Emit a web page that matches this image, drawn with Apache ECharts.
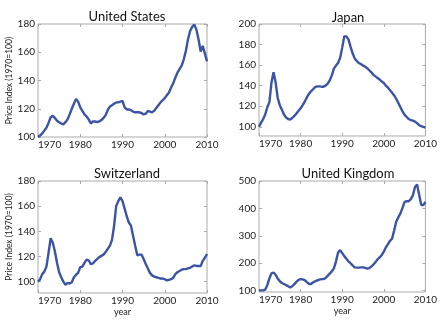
<!DOCTYPE html>
<html><head><meta charset="utf-8">
<script src="https://cdn.jsdelivr.net/npm/echarts@6/dist/echarts.min.js"></script>
<style>html,body{margin:0;padding:0;background:#fff}#c{width:440px;height:325px}</style>
</head><body><div id="c"></div>
<script>
const years = [1970,1970.5,1971,1971.5,1972,1972.5,1973,1973.5,1974,1974.5,1975,1975.5,1976,1976.5,1977,1977.5,1978,1978.5,1979,1979.5,
1980,1980.5,1981,1981.5,1982,1982.5,1983,1983.5,1984,1984.5,1985,1985.5,1986,1986.5,1987,1987.5,1988,1988.5,1989,1989.5,
1990,1990.5,1991,1991.5,1992,1992.5,1993,1993.5,1994,1994.5,1995,1995.5,1996,1996.5,1997,1997.5,1998,1998.5,1999,1999.5,
2000,2000.5,2001,2001.5,2002,2002.5,2003,2003.5,2004,2004.5,2005,2005.5,2006,2006.5,2007,2007.5,2008,2008.5,2009,2009.5,2010];

const usValues = [100,101,102.5,104.5,106.5,110,114,115,113.5,111.5,110.5,109.5,109,110.5,112.5,116,120,123.5,127,125,
121,118.5,116,114.5,112.5,109.5,111,111,110.5,111,112,113.5,115.5,119,121.5,122.5,123.5,124.5,124.5,125,
125.5,121,119.5,119.5,119,118,117.5,117.5,117.5,117,116,116.5,118.5,118,117.5,118.5,120.5,122.5,124.5,126,
127.5,129.5,131.5,135,138,142,145.5,148,150.5,155,161,169,175,178,179.5,176,169,160.5,164.5,159,153.5];

const japanValues = [100,104,107.5,112,119,124,143,153,143,128,121,116.5,112,109,107.5,107,108.5,110.5,113,115.5,
118,121,124.5,128.5,132,134.5,136.5,138.5,139.3,139.3,139,139,140,142,145,150,156.5,159.5,162,167,
177,188,188,185,178,171.5,166.5,164,162,161,159.5,158.5,157,155,153,150.5,149,147.5,146,144,
142.5,140,138,135.5,133,130.5,127,123,119,115,111.5,109.5,107.5,106.5,106,105,103.5,101.5,100.5,99.8,99.3];

const swissValues = [100,102,106,108,112,123,134.5,131,124,115,107.5,103.5,100,97.5,99,98.5,99.5,103.5,105.5,107,
111.5,112,115,117.5,117,114,114.5,116.5,118,119.5,120.5,121.5,123.5,126,128.5,133,144,160,164,167,
164,158,152,147,144.5,136.5,128.5,121,121.5,121.5,118,114,110.5,107,105,104,103.5,103,102.5,102.5,
102,101,101.5,102,103,106,107.5,108.5,109.5,110,110,110.5,111,112,113,112.5,112.5,112.5,116.5,119,122];

const ukValues = [101,101,101,104,120,145,163,166,158,144,134,128,124,120,116,112,116,124,132,139,
142,141,138,131,125,124,130,134,137,140,142,142,146,154,162,170,181,206,238,248,
237,226,216,207,200,192,185,184,184,185,185,183,180,182,188,195,204,214,221,230,
242,258,270,282,290,320,352,368,382,402,424,426,426,434,448,478,487,450,412,412,424];

const titles = ['United States','Japan','Switzerland','United Kingdom'];
const xTicks = [1970,1980,1990,2000,2010];
const usTicks = [100,120,140,160,180];
const japanTicks = [100,120,140,160,180,200];
const swissTicks = [100,120,140,160,180];
const ukTicks = [100,200,300,400,500];

const yName = 'Price Index (1970=100)';
const xName = 'year';

const FONT = 'Lato';
const lineColor = '#3b54a5';
const frame = '#ababab';

const panels = [
  {vals: usValues, ticks: usTicks, min: 100, max: 180, grid: {left: 38, top: 24, width: 169, height: 113}, yname: true, xname: false, tx: 122, ty: 5},
  {vals: japanValues, ticks: japanTicks, min: 91, max: 200, grid: {left: 259, top: 24, width: 168, height: 112}, yname: false, xname: false, tx: 343, ty: 6},
  {vals: swissValues, ticks: swissTicks, min: 91, max: 180, grid: {left: 38, top: 181, width: 169, height: 112}, yname: true, xname: true, tx: 122, ty: 162},
  {vals: ukValues, ticks: ukTicks, min: 95, max: 500, grid: {left: 259, top: 181, width: 167, height: 111}, yname: false, xname: true, tx: 343, ty: 162}
];

const option = {
  animation: false,
  backgroundColor: '#fff',
  title: [], grid: [], xAxis: [], yAxis: [], series: []
};

panels.forEach((p, i) => {
  option.title.push({text: titles[i], left: p.tx, top: p.ty, textAlign: 'center',
    textStyle: {fontFamily: FONT, fontSize: 13, fontWeight: 'normal', color: '#111'}});
  option.grid.push(Object.assign({show: true, borderColor: frame, borderWidth: 1, backgroundColor: 'transparent'}, p.grid));
  const ax = {
    type: 'value', min: 1970, max: 2010, interval: 10, gridIndex: i,
    axisLine: {show: false},
    axisTick: {show: true, inside: true, length: 3, lineStyle: {color: frame}},
    splitLine: {show: false},
    axisLabel: {fontFamily: FONT, fontSize: 10, color: '#222', margin: 3, alignMinLabel: 'left',
      customValues: xTicks, formatter: v => String(v)}
  };
  if (p.xname) {
    Object.assign(ax, {name: xName, nameLocation: 'middle', nameGap: 15,
      nameTextStyle: {fontFamily: FONT, fontSize: 9, color: '#222'}});
  }
  option.xAxis.push(ax);
  option.xAxis.push({type: 'value', min: 1970, max: 2010, interval: 10, gridIndex: i, position: 'top',
    axisLine: {show: false}, axisLabel: {show: false}, splitLine: {show: false},
    axisTick: {show: true, inside: true, length: 3, lineStyle: {color: frame}}});
  const ay = {
    type: 'value', min: p.min, max: p.max, gridIndex: i,
    axisLine: {show: false},
    axisTick: {show: true, inside: true, length: 3, lineStyle: {color: frame}, customValues: p.ticks},
    splitLine: {show: false},
    axisLabel: {fontFamily: FONT, fontSize: 10, color: '#222', margin: 3, customValues: p.ticks}
  };
  if (p.yname) {
    Object.assign(ay, {name: yName, nameLocation: 'middle', nameGap: 24, nameRotate: 90,
      nameTextStyle: {fontFamily: FONT, fontSize: 8.5, color: '#222'}});
  }
  option.yAxis.push(ay);
  option.yAxis.push({type: 'value', min: p.min, max: p.max, gridIndex: i, position: 'right',
    axisLine: {show: false}, axisLabel: {show: false}, splitLine: {show: false},
    axisTick: {show: true, inside: true, length: 3, lineStyle: {color: frame}, customValues: p.ticks}});
  option.series.push({
    type: 'line', xAxisIndex: 2 * i, yAxisIndex: 2 * i, symbol: 'none',
    lineStyle: {color: lineColor, width: 2.4}, clip: true,
    data: years.map((y, k) => [y, p.vals[k]])
  });
});

const chart = echarts.init(document.getElementById('c'), null, {renderer: 'canvas'});
chart.setOption(option);
</script>
</body></html>
